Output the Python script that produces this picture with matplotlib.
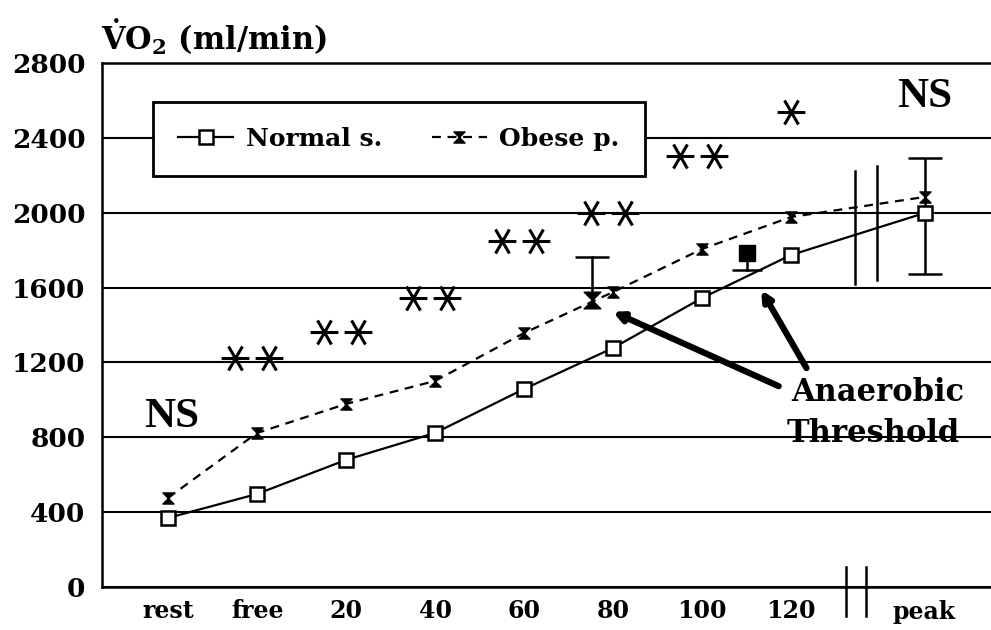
import numpy as np
import matplotlib
matplotlib.use("Agg")
import matplotlib.pyplot as plt
from matplotlib.path import Path

plt.rcParams['font.family'] = ['DejaVu Serif']
plt.rcParams['font.weight'] = 'bold'
plt.rcParams['mathtext.fontset'] = 'dejavuserif'

# Data
stages = ['rest', 'free', '20', '40', '60', '80', '100', '120', 'peak']
stage_pos = [0, 1, 2, 3, 4, 5, 6, 7, 8.5]   # peak sits after the axis break
normal = [369, 497, 679, 823, 1058, 1277, 1544, 1774, 1998]
obese = [476, 823, 978, 1101, 1357, 1576, 1806, 1977, 2084]

# peak error bar (shared)
peak_err_low = 1671
peak_err_high = 2292

# anaerobic threshold points
at_obese_pos, at_obese_val, at_obese_sd = 4.76, 1533, 230
at_normal_pos, at_normal_val, at_normal_sd = 6.51, 1785, 91

# significance asterisks (stage index, level, count)
star_stage = [1, 2, 3, 4, 5, 6, 7]
star_level = [1224, 1363, 1544, 1849, 1998, 2303, 2538]
star_count = [2, 2, 2, 2, 2, 2, 1]

hourglass = Path([(-1, 1), (1, 1), (-1, -1), (1, -1), (-1, 1)],
                 [Path.MOVETO, Path.LINETO, Path.LINETO, Path.LINETO, Path.CLOSEPOLY])
c, s = 0.5, 0.866
asterisk = Path([(-1, 0), (1, 0), (-c, -s), (c, s), (c, -s), (-c, s)],
                [Path.MOVETO, Path.LINETO] * 3)

fig = plt.figure(figsize=(9.91, 6.30), dpi=100)
ax = fig.add_axes([102/991, 43/630, 889/991, 524/630])
ax.set_xlim(-66/89, 823/89)
ax.set_ylim(0, 2800)

# grid
ax.set_yticks(np.arange(0, 2801, 400))
ax.yaxis.grid(True, color='black', lw=1.5)
ax.set_axisbelow(True)
for sp in ['left', 'bottom', 'top']:
    ax.spines[sp].set_linewidth(1.8)
ax.spines['right'].set_visible(False)

# main series
ax.plot(stage_pos, normal, '-', color='black', lw=1.6, marker='s', ms=10,
        mfc='white', mec='black', mew=1.8, label='Normal s.', zorder=4)
ax.plot(stage_pos, obese, '--', color='black', lw=1.6, dashes=(4, 3), marker=hourglass,
        ms=8, mfc='black', mec='black', label='Obese p.', zorder=4)

# peak error bar
ax.errorbar([stage_pos[-1]], [normal[-1]],
            yerr=[[normal[-1] - peak_err_low], [peak_err_high - normal[-1]]],
            fmt='none', ecolor='black', elinewidth=1.8, capsize=12.5, capthick=1.8, zorder=3)

# anaerobic threshold markers with one-sided error bars
top = at_obese_val + at_obese_sd
ax.plot([at_obese_pos, at_obese_pos], [at_obese_val, top], color='black', lw=1.8, zorder=3)
ax.plot([at_obese_pos], [top], marker='_', ms=25, mew=1.8, color='black', zorder=3)
ax.plot([at_obese_pos], [at_obese_val], marker=hourglass, ms=12, color='black',
        ls='none', zorder=5)
bot = at_normal_val - at_normal_sd
ax.plot([at_normal_pos, at_normal_pos], [at_normal_val, bot], color='black', lw=1.8, zorder=3)
ax.plot([at_normal_pos], [bot], marker='_', ms=22, mew=1.8, color='black', zorder=3)
ax.plot([at_normal_pos], [at_normal_val], marker='s', ms=11, color='black',
        ls='none', zorder=5)

# asterisks
for st, lev, n in zip(star_stage, star_level, star_count):
    offs = [-0.25, 0.14] if n == 2 else [0.0]
    ax.plot([st + o for o in offs], [lev] * n, ls='none', marker=asterisk,
            ms=20, mew=2.2, mfc='none', mec='black', zorder=4)

# axis break in the plot and on the x axis
ax.plot([7.72, 7.72], [1619, 2223], color='black', lw=1.8)
ax.plot([7.97, 7.97], [1641, 2251], color='black', lw=1.8)
ax.plot([7.62, 7.62], [107, -155], color='black', lw=1.8, clip_on=False)
ax.plot([7.84, 7.84], [107, -155], color='black', lw=1.8, clip_on=False)

# ticks
ax.set_xticks(stage_pos, stages)
ax.tick_params(axis='x', length=0, pad=9, labelsize=17)
ax.tick_params(axis='y', length=0, pad=12, labelsize=19)

# NS labels
ax.text(0.045, 908, 'NS', family='Liberation Serif', fontsize=31, fontweight='bold',
        ha='center', va='center')
ax.text(8.5, 2619, 'NS', family='Liberation Serif', fontsize=31, fontweight='bold',
        ha='center', va='center')

# anaerobic threshold annotation
ax.text(7.98, 1037, 'Anaerobic', fontsize=22, ha='center', va='center')
ax.text(7.92, 818, 'Threshold', fontsize=22, ha='center', va='center')
ax.annotate('', xy=(4.97, 1477), xytext=(6.89, 1067),
            arrowprops=dict(arrowstyle='-|>', lw=4.5, color='black', mutation_scale=14))
ax.annotate('', xy=(6.65, 1600), xytext=(7.19, 1157),
            arrowprops=dict(arrowstyle='-|>', lw=4.5, color='black', mutation_scale=14))

# y axis title
fig.text(101/991, 1 - 37/630, r'$\mathbf{\dot{V}O_2}$ (ml/min)', fontsize=22,
         ha='left', va='center')

leg = ax.legend(loc='upper left', bbox_to_anchor=(51/889, 485/524), ncol=2,
                fontsize=18, frameon=True, fancybox=False, framealpha=1,
                edgecolor='black', borderpad=1.0, borderaxespad=0, handlelength=2.2,
                handletextpad=0.5, columnspacing=2.0)
leg.get_frame().set_linewidth(2)
leg.set_zorder(6)

fig.savefig('out.png', dpi=100)
